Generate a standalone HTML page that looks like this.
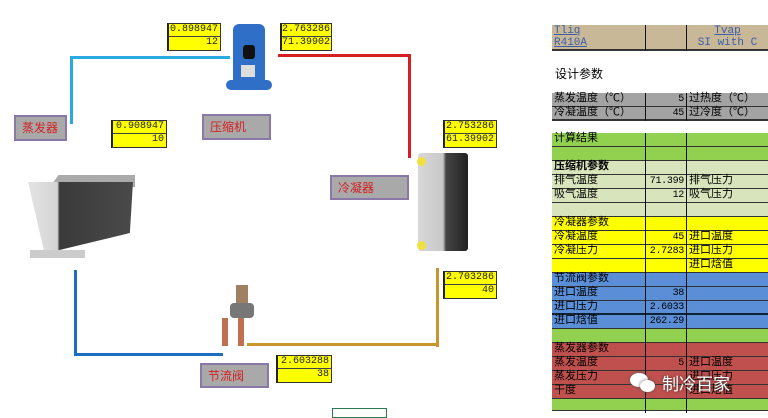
<!DOCTYPE html>
<html><head><meta charset="utf-8"><style>
*{margin:0;padding:0;box-sizing:border-box}
body{width:768px;height:416px;background:#fff;position:relative;overflow:hidden;font-family:"Liberation Mono","Noto Sans CJK SC",monospace}
.a{position:absolute}
.yb{position:absolute;background:#ffff00;border:1px solid #333;border-left:2px solid #222;font-size:10px;color:#222;text-align:right;line-height:12px}
.yb div{height:13px;padding-right:2px;border-bottom:1px solid #444}
.yb div:last-child{border-bottom:none}
.lb{position:absolute;background:#a9a9a9;border:2px solid #8a78a8;color:#d42020;font-family:"Liberation Sans","Noto Sans CJK SC",sans-serif;font-size:12px;padding-left:6px;line-height:22px}
.tbl{position:absolute;left:552px;font-family:"Liberation Mono","Noto Sans CJK SC",monospace;font-size:11px}
.r{position:absolute;left:0;width:216px;height:14px;line-height:13px;border-bottom:1px solid #333}
.r span{position:absolute;top:0;height:14px;padding:0 2px;white-space:nowrap}
.c1{left:0;width:93px}.c2{left:93px;width:42px;text-align:right;border-left:1px solid #111;border-right:1px solid #111;font-size:10px;letter-spacing:-0.3px}.c3{left:135px;width:81px}
</style></head><body>
<!-- pipes -->
<div class="a" style="left:70px;top:56px;width:160px;height:3px;background:#29abe2"></div>
<div class="a" style="left:70px;top:56px;width:3px;height:68px;background:#29abe2"></div>
<div class="a" style="left:278px;top:54px;width:133px;height:3px;background:#d42020"></div>
<div class="a" style="left:408px;top:54px;width:3px;height:104px;background:#d42020"></div>
<div class="a" style="left:436px;top:268px;width:3px;height:79px;background:#c8962f"></div>
<div class="a" style="left:247px;top:343px;width:192px;height:3px;background:#c8962f"></div>
<div class="a" style="left:74px;top:270px;width:3px;height:86px;background:#1a6fc0"></div>
<div class="a" style="left:74px;top:353px;width:149px;height:3px;background:#1a6fc0"></div>
<!-- compressor -->
<div class="a" style="left:233px;top:24px;width:32px;height:64px;background:#2f6fc8;border-radius:6px 6px 3px 3px"></div>
<div class="a" style="left:226px;top:80px;width:46px;height:10px;background:#2f6fc8;border-radius:5px"></div>
<div class="a" style="left:243px;top:45px;width:12px;height:14px;background:#111;border-radius:3px"></div>
<div class="a" style="left:241px;top:65px;width:14px;height:12px;background:#ddd"></div>
<!-- condenser -->
<div class="a" style="left:418px;top:153px;width:50px;height:98px;background:linear-gradient(90deg,#d8d8d8 0,#c8c8c8 50%,#444 56%,#222 100%);border-radius:3px"></div>
<div class="a" style="left:417px;top:157px;width:9px;height:9px;background:#f0e040;border-radius:50%"></div>
<div class="a" style="left:417px;top:241px;width:9px;height:9px;background:#f0e040;border-radius:50%"></div>
<!-- evaporator -->
<div class="a" style="left:50px;top:175px;width:85px;height:12px;background:#aaa;clip-path:polygon(0 100%,10% 0,100% 0,100% 100%)"></div>
<div class="a" style="left:28px;top:182px;width:105px;height:68px;background:linear-gradient(90deg,#e4e4e4 0,#d4d4d4 28%,#3a3a3a 30%,#4a4a4a 100%);clip-path:polygon(0 0,100% 0,97% 75%,30% 100%,15% 100%)"></div>
<div class="a" style="left:30px;top:250px;width:55px;height:8px;background:#ccc"></div>
<!-- valve -->
<div class="a" style="left:236px;top:285px;width:12px;height:20px;background:#a08060"></div>
<div class="a" style="left:230px;top:303px;width:24px;height:15px;background:#777;border-radius:4px"></div>
<div class="a" style="left:222px;top:318px;width:6px;height:28px;background:#c07050"></div>
<div class="a" style="left:238px;top:318px;width:6px;height:28px;background:#c07050"></div>
<!-- yellow boxes -->
<div class="yb" style="left:167px;top:23px;width:54px;height:28px"><div>0.898947</div><div>12</div></div>
<div class="yb" style="left:280px;top:23px;width:52px;height:28px"><div>2.763286</div><div>71.39902</div></div>
<div class="yb" style="left:111px;top:120px;width:56px;height:28px"><div>0.908947</div><div>10</div></div>
<div class="yb" style="left:443px;top:120px;width:54px;height:28px"><div>2.753286</div><div>61.39902</div></div>
<div class="yb" style="left:443px;top:271px;width:54px;height:28px"><div>2.703286</div><div>40</div></div>
<div class="yb" style="left:276px;top:355px;width:56px;height:28px"><div>2.603288</div><div>38</div></div>
<!-- labels -->
<div class="lb" style="left:14px;top:115px;width:53px;height:26px">蒸发器</div>
<div class="lb" style="left:202px;top:114px;width:69px;height:26px">压缩机</div>
<div class="lb" style="left:330px;top:175px;width:79px;height:25px">冷凝器</div>
<div class="lb" style="left:200px;top:363px;width:69px;height:25px">节流阀</div>
<div class="a" style="left:332px;top:408px;width:55px;height:10px;border:1px solid #2a7a50"></div>
<!-- table -->
<div class="tbl" style="top:25px">
<div class="r" style="top:0;background:#c8b898;color:#3a5fa8"><span class="c1"><u>Tliq</u></span><span class="c2"></span><span class="c3" style="text-align:center"><u>Tvap</u></span></div>
<div class="r" style="top:12px;background:#c8b898;color:#3a5fa8;border-bottom:2px solid #333"><span class="c1"><u>R410A</u></span><span class="c2"></span><span class="c3" style="text-align:center">SI with C</span></div>
</div>
<div class="a" style="left:555px;top:65px;font-family:'Liberation Sans','Noto Sans CJK SC',sans-serif;font-size:12px">设计参数</div>
<div class="tbl" style="top:91px;border-top:2px solid #333">
<div class="r" style="top:0;background:#a3a3a3"><span class="c1">蒸发温度（℃）</span><span class="c2">5</span><span class="c3">过热度（℃）</span></div>
<div class="r" style="top:14px;background:#a3a3a3;border-bottom:2px solid #333"><span class="c1">冷凝温度（℃）</span><span class="c2">45</span><span class="c3">过冷度（℃）</span></div>
</div>
<div class="tbl" style="top:132px;border-top:1px solid #333">
<div class="r" style="top:0;background:#92d050"><span class="c1">计算结果</span><span class="c2"></span><span class="c3"></span></div>
<div class="r" style="top:14px;background:#92d050"><span class="c1"></span><span class="c2"></span><span class="c3"></span></div>
<div class="r" style="top:28px;background:#d8e4bc"><span class="c1" style="font-weight:bold">压缩机参数</span><span class="c2"></span><span class="c3"></span></div>
<div class="r" style="top:42px;background:#d8e4bc"><span class="c1">排气温度</span><span class="c2">71.399</span><span class="c3">排气压力</span></div>
<div class="r" style="top:56px;background:#d8e4bc"><span class="c1">吸气温度</span><span class="c2">12</span><span class="c3">吸气压力</span></div>
<div class="r" style="top:70px;background:#d8e4bc"><span class="c1"></span><span class="c2"></span><span class="c3"></span></div>
<div class="r" style="top:84px;background:#ffff00"><span class="c1">冷凝器参数</span><span class="c2"></span><span class="c3"></span></div>
<div class="r" style="top:98px;background:#ffff00"><span class="c1">冷凝温度</span><span class="c2">45</span><span class="c3">进口温度</span></div>
<div class="r" style="top:112px;background:#ffff00"><span class="c1">冷凝压力</span><span class="c2">2.7283</span><span class="c3">进口压力</span></div>
<div class="r" style="top:126px;background:#ffff00"><span class="c1"></span><span class="c2"></span><span class="c3">进口焓值</span></div>
<div class="r" style="top:140px;background:#5a8fd8"><span class="c1">节流阀参数</span><span class="c2"></span><span class="c3"></span></div>
<div class="r" style="top:154px;background:#5a8fd8"><span class="c1">进口温度</span><span class="c2">38</span><span class="c3"></span></div>
<div class="r" style="top:168px;background:#5a8fd8;border-bottom:2px solid #123"><span class="c1">进口压力</span><span class="c2">2.6033</span><span class="c3"></span></div>
<div class="r" style="top:182px;background:#5a8fd8"><span class="c1">进口焓值</span><span class="c2">262.29</span><span class="c3"></span></div>
<div class="r" style="top:196px;background:#92d050"><span class="c1"></span><span class="c2"></span><span class="c3"></span></div>
<div class="r" style="top:210px;background:#c0504d"><span class="c1">蒸发器参数</span><span class="c2"></span><span class="c3"></span></div>
<div class="r" style="top:224px;background:#c0504d"><span class="c1">蒸发温度</span><span class="c2">5</span><span class="c3">进口温度</span></div>
<div class="r" style="top:238px;background:#c0504d"><span class="c1">蒸发压力</span><span class="c2"></span><span class="c3">进口压力</span></div>
<div class="r" style="top:252px;background:#c0504d"><span class="c1">干度</span><span class="c2"></span><span class="c3">进口焓值</span></div>
<div class="r" style="top:266px;background:#92d050;height:12px"><span class="c1"></span><span class="c2"></span><span class="c3"></span></div>
</div>
<!-- watermark -->
<div class="a" style="left:630px;top:373px;width:18px;height:14px;background:#fff;border-radius:50%;box-shadow:0 0 3px #555"></div>
<div class="a" style="left:640px;top:380px;width:15px;height:12px;background:#fff;border-radius:50%;box-shadow:0 0 3px #555"></div>
<div class="a" style="left:662px;top:370px;color:#fff;font-family:'Liberation Sans','Noto Sans CJK SC',sans-serif;font-size:17px;text-shadow:0 0 3px #333">制冷百家</div>
</body></html>
